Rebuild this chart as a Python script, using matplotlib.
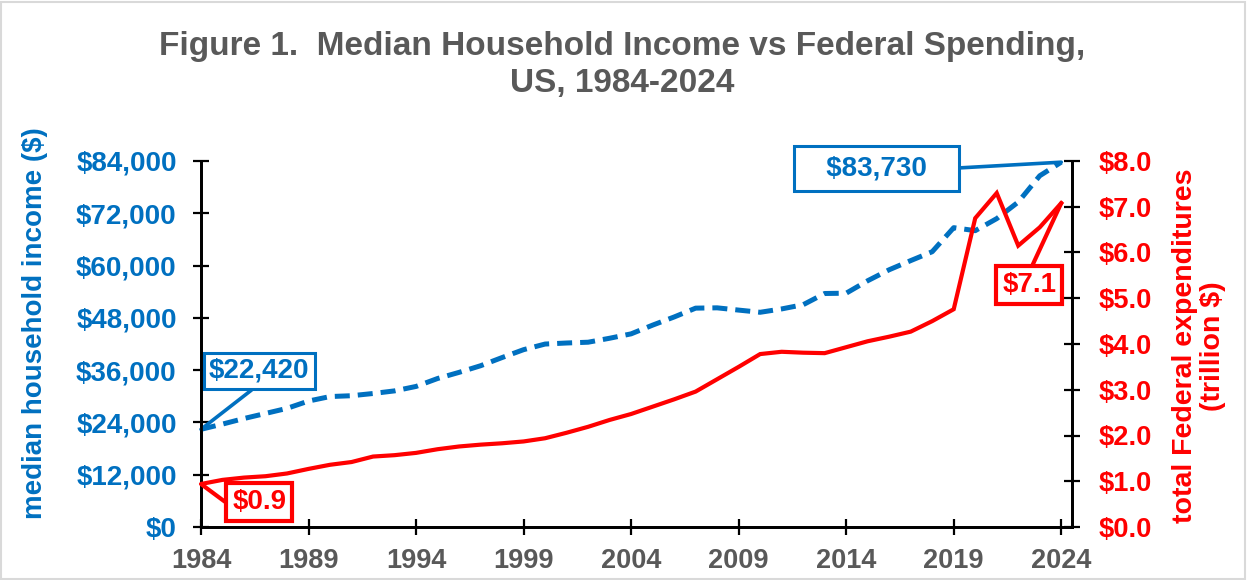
import matplotlib
matplotlib.use("Agg")
import matplotlib.pyplot as plt
from matplotlib.patches import Rectangle

plt.rcParams['font.family'] = ['Liberation Sans', 'DejaVu Sans']
plt.rcParams['font.weight'] = 'bold'

years = list(range(1984, 2025))
income = [22420, 23620, 24900, 26060, 27230, 28910, 29940, 30130, 30640, 31240,
          32260, 34080, 35490, 37010, 38890, 40700, 41990, 42230, 42410, 43320,
          44330, 46330, 48200, 50230, 50300, 49780, 49280, 50050, 51020, 53590,
          53660, 56520, 59040, 61140, 63180, 68700, 68010, 70780, 74580, 80610,
          83730]
spending = [0.94, 1.03, 1.08, 1.11, 1.17, 1.27, 1.36, 1.42, 1.54, 1.57,
            1.62, 1.70, 1.76, 1.80, 1.83, 1.87, 1.94, 2.06, 2.19, 2.34,
            2.47, 2.63, 2.79, 2.96, 3.23, 3.50, 3.78, 3.83, 3.81, 3.80,
            3.93, 4.06, 4.16, 4.27, 4.50, 4.76, 6.75, 7.30, 6.15, 6.55,
            7.08]
xticks = [1984, 1989, 1994, 1999, 2004, 2009, 2014, 2019, 2024]
left_ticks = [0, 12000, 24000, 36000, 48000, 60000, 72000, 84000]
left_labels = ['$0', '$12,000', '$24,000', '$36,000', '$48,000', '$60,000', '$72,000', '$84,000']
right_ticks = [0, 1, 2, 3, 4, 5, 6, 7, 8]
right_labels = ['$%.1f' % v for v in right_ticks]

title = "Figure 1.  Median Household Income vs Federal Spending,\nUS, 1984-2024"
left_label = "median household income ($)"
right_label = "total Federal expenditures\n(trillion $)"

BLUE = '#0070C0'
RED = '#FF0000'
GRAY = '#595959'

fig = plt.figure(figsize=(12.47, 5.8), dpi=100)
fig.patches.append(Rectangle((0.001, 0.002), 0.997, 0.995, transform=fig.transFigure,
                             fill=False, edgecolor='#D9D9D9', linewidth=1.5))

ax = fig.add_axes([201/1247, 1-527/580, (1072-201)/1247, (527-161)/580])
ax2 = ax.twinx()

ax.plot(years, income, color=BLUE, lw=3.6, linestyle=(0, (3.0, 1.6)), dash_capstyle='butt', zorder=3)
ax2.plot(years, spending, color=RED, lw=3.0, zorder=3, solid_joinstyle='miter')

ax.set_xlim(1984, 2024.5)
ax.set_ylim(0, 84000)
ax2.set_ylim(0, 8)
ax.set_xticks(xticks)
ax.set_xticklabels([str(x) for x in xticks], color=GRAY, fontsize=19.5, fontweight='bold')
ax.set_yticks(left_ticks)
ax.set_yticklabels(left_labels, color=BLUE, fontsize=20, fontweight='bold')
ax2.set_yticks(right_ticks)
ax2.set_yticklabels(right_labels, color=RED, fontsize=19.6, fontweight='bold')

for a in (ax, ax2):
    a.spines['top'].set_visible(False)
    for s in ('left', 'right', 'bottom'):
        a.spines[s].set_linewidth(2.0)
        a.spines[s].set_color('black')
ax.tick_params(axis='x', direction='inout', length=12, width=1.6, pad=9)
ax.tick_params(axis='y', direction='inout', length=12, width=1.6, pad=11.5)
ax2.tick_params(axis='y', direction='inout', length=12, width=1.6, pad=13)

fig.text(35/1247, 1-323/580, left_label, rotation=90, ha='center', va='center',
         color=BLUE, fontsize=20, fontweight='bold')
fig.text(1199/1247, 1-346/580, right_label, rotation=90, ha='center', va='center',
         color=RED, fontsize=20.5, fontweight='bold', linespacing=1.05, multialignment='center')

fig.text(622/1247, 1-65/580, title, ha='center', va='center', fontsize=24,
         fontweight='bold', color=GRAY, linespacing=1.22)

# callouts
ax.annotate('$22,420', xy=(years[0], income[0]), xytext=(42, 42), textcoords='offset points',
            ha='center', va='center', fontsize=20, fontweight='bold', color=BLUE,
            bbox=dict(boxstyle='square,pad=0.18', fc='white', ec=BLUE, lw=2.2),
            arrowprops=dict(arrowstyle='-', color=BLUE, lw=2.6, relpos=(0.5, 0),
                            shrinkA=0, shrinkB=0), annotation_clip=False, zorder=5)
ax.annotate('   $83,730   ', xy=(years[-1], income[-1]), xytext=(-133, -4.5), textcoords='offset points',
            ha='center', va='center', fontsize=20, fontweight='bold', color=BLUE,
            bbox=dict(boxstyle='square,pad=0.33', fc='white', ec=BLUE, lw=2.2),
            arrowprops=dict(arrowstyle='-', color=BLUE, lw=2.6, relpos=(1, 0.5),
                            shrinkA=0, shrinkB=0), annotation_clip=False, zorder=5)
ax2.annotate('$0.9', xy=(years[0], spending[0]), xytext=(42, -13), textcoords='offset points',
             ha='center', va='center', fontsize=20, fontweight='bold', color=RED,
             bbox=dict(boxstyle='square,pad=0.22', fc='white', ec=RED, lw=3.0),
             arrowprops=dict(arrowstyle='-', color=RED, lw=3.0, relpos=(0, 0.5),
                             shrinkA=0, shrinkB=0,
                             connectionstyle='arc,angleA=180,armA=7,angleB=0,armB=0,rad=0'),
             annotation_clip=False, zorder=5)
ax2.annotate('$7.1', xy=(years[-1], spending[-1]), xytext=(-23, -59), textcoords='offset points',
             ha='center', va='center', fontsize=20, fontweight='bold', color=RED,
             bbox=dict(boxstyle='square,pad=0.22', fc='white', ec=RED, lw=3.0),
             arrowprops=dict(arrowstyle='-', color=RED, lw=3.0, relpos=(0.5, 1),
                             shrinkA=0, shrinkB=0), annotation_clip=False, zorder=5)

fig.savefig('out.png', dpi=100)
